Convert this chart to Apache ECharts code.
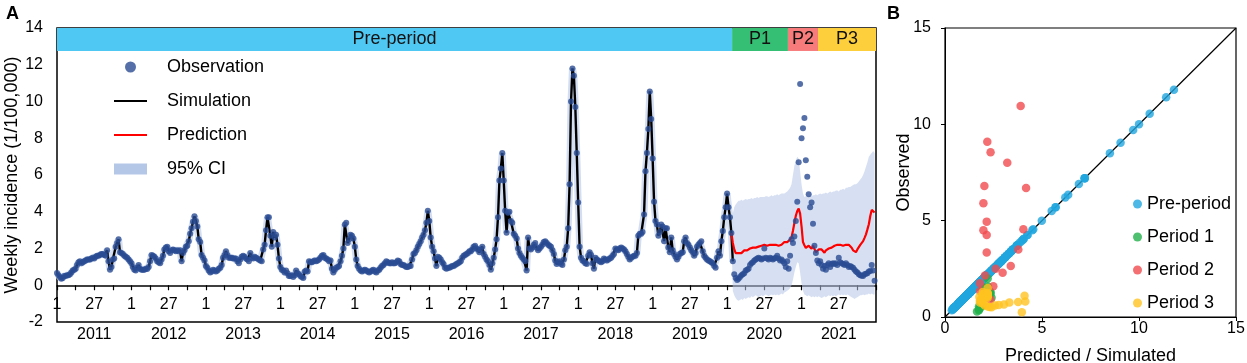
<!DOCTYPE html>
<html>
<head>
<meta charset="utf-8">
<title>Weekly incidence</title>
<script src="https://cdn.jsdelivr.net/npm/echarts@6/dist/echarts.min.js"></script>
<style>
  html, body { margin: 0; padding: 0; background: #fff; }
  #chart { width: 1247px; height: 363px; }
</style>
</head>
<body>
<div id="chart"></div>
<script>
// weekly observed incidence (1/100,000), 52 weeks per year
const obs2011 = [0.67,0.55,0.45,0.35,0.4,0.5,0.5,0.55,0.55,0.6, 0.7,0.8,0.85,0.9,1.1,1.25,1.3,1.2,1.25,1.3, 1.35,1.4,1.4,1.4,1.45,1.5,1.45,1.55,1.6,1.6, 1.65,1.7,1.7,1.65,1.6,1.9,1.3,0.85,1.0,1.4, 1.45,2.1,2.3,2.5,1.8,1.75,1.7,1.6,1.55,1.5, 1.4,1.3];
const obs2012 = [1.2,1.0,0.85,0.8,0.95,1.1,0.9,0.85,0.85,0.85, 0.9,0.88,1.0,1.3,1.65,1.6,1.55,1.45,1.3,1.25, 1.2,1.4,1.6,1.95,2.05,2.1,1.85,1.75,1.9,1.95, 1.9,1.85,1.9,1.85,1.9,1.3,1.75,1.9,2.1,2.15, 2.4,2.8,3.1,3.45,3.75,3.5,3.2,2.5,2.35,1.65, 1.5,1.35];
const obs2013 = [1.05,0.95,0.8,0.7,0.75,0.85,0.8,0.75,0.8,0.9, 0.95,1.1,1.5,1.65,1.85,1.65,1.5,1.5,1.5,1.45, 1.45,1.45,1.3,1.2,1.4,1.55,1.6,1.55,1.45,1.4, 1.3,1.75,1.5,1.45,1.55,1.5,1.45,1.4,1.35,1.3, 1.95,2.2,3.0,3.7,3.7,2.7,2.1,2.9,2.6,2.75, 2.2,1.45];
const obs2014 = [1.0,0.85,0.8,0.7,0.8,0.65,0.5,0.5,0.55,0.45, 0.55,0.8,0.65,0.6,0.5,0.45,0.4,0.75,0.8,0.75, 1.3,1.25,1.25,1.3,1.35,1.3,1.35,1.4,1.5,1.6, 1.65,1.5,1.45,1.4,1.3,1.35,0.9,0.7,0.85,0.95, 1.0,1.05,1.3,1.6,2.0,3.3,3.4,2.3,2.5,2.75, 2.7,2.55];
const obs2015 = [2.1,1.4,1.05,0.9,0.8,0.75,0.8,0.85,0.8,0.75, 0.7,0.75,0.8,0.85,0.75,0.7,0.8,0.85,0.95,1.05, 1.1,1.2,1.3,1.25,1.2,1.2,1.25,1.2,1.2,1.25, 1.35,1.3,1.15,1.1,1.1,1.05,1.0,1.0,1.05,1.05, 1.4,1.7,1.75,1.9,2.1,2.25,2.4,2.6,2.75,3.0, 3.4,4.05];
const obs2016 = [3.5,2.6,2.1,1.85,1.45,1.05,1.55,1.5,1.4,1.25, 1.15,0.95,0.9,0.95,0.95,1.0,1.05,1.05,1.1,1.15, 1.2,1.25,1.3,1.5,1.6,1.65,1.7,1.75,1.85,1.85, 1.95,2.1,2.15,2.0,1.95,1.8,1.95,2.1,1.7,1.55, 1.4,1.3,1.1,0.85,1.2,1.5,1.95,2.5,3.7,5.7, 6.35,7.2];
const obs2017 = [5.7,4.05,2.86,3.95,4.0,3.5,3.4,2.8,2.7,2.55, 2.0,1.75,1.6,1.5,1.4,1.3,0.8,2.6,2.0,1.95, 2.05,2.2,2.3,2.05,1.9,2.0,2.1,2.2,2.35,2.4, 2.3,2.2,2.15,2.1,1.9,1.7,1.35,1.15,1.25,1.3, 1.15,1.1,1.4,1.9,2.1,3.1,5.5,10.0,11.8,11.4, 9.7,7.2];
const obs2018 = [4.5,2.1,1.5,1.35,1.3,1.2,1.15,1.6,1.8,1.65, 1.2,0.9,1.5,1.4,1.35,1.3,1.25,1.3,1.45,1.4, 1.35,1.4,1.45,1.5,1.6,1.7,2.0,1.95,1.9,2.0, 2.05,2.0,1.95,1.85,1.7,1.55,1.4,1.5,1.55,1.6, 1.6,1.75,2.7,2.8,2.8,2.9,3.85,6.2,7.2,8.5, 10.55,9.05];
const obs2019 = [6.9,4.55,3.5,3.3,2.7,2.9,3.3,3.2,2.4,3.1, 3.1,2.05,1.8,2.6,1.9,1.7,1.55,1.4,1.55,1.7, 1.75,1.8,2.4,2.6,2.3,2.2,2.05,1.9,1.8,1.6, 1.75,2.1,2.2,2.3,2.4,1.85,1.6,1.5,1.4,1.35, 1.3,1.25,1.2,1.05,0.95,1.5,1.85,1.6,2.4,2.95, 3.7,4.25];
const obs2020 = [4.99,4.25,3.7,2.85,1.3,0.6,0.4,0.28,0.35,0.45, 0.55,0.6,0.65,0.8,0.85,0.9,1.1,1.2,1.25,1.35, 1.4,1.45,1.5,1.45,1.4,1.45,2.0,1.5,1.45,1.4, 1.5,1.45,1.4,1.45,1.5,1.6,1.45,1.35,1.4,1.3, 1.2,1.0,1.3,0.9,1.6,2.5,2.3,2.65,3.5,4.55, 6.7,10.95];
const obs2021 = [8.0,8.55,9.1,6.8,5.9,4.95,4.25,4.5,3.35,2.15, 1.75,1.35,1.2,1.3,1.1,0.9,1.05,0.85,1.1,1.2, 1.0,1.15,1.2,1.15,1.2,1.1,1.5,1.25,1.2,1.15, 1.1,1.2,1.1,1.0,1.05,1.0,0.95,0.85,0.75,0.7, 0.6,0.55,0.52,0.5,0.6,0.62,0.65,0.75,0.78,1.1, 0.8,0.25];

const years = ['2011', '2012', '2013', '2014', '2015', '2016', '2017', '2018', '2019', '2020', '2021'];

// periods, by first week index (week 0 = 2011 week 1)
const periodNames = ['Pre-period', 'P1', 'P2', 'P3'];
const periodStart = [0, 472, 511, 532];
const scatterNames = ['Pre-period', 'Period 1', 'Period 2', 'Period 3'];

// simulation follows the observations up to the end of the pre-period
const simulatedEnd = 472;

// prediction and its 95% CI, from week index 471 to 571
const predStart = 471;
const predicted = [2.85,2.3,1.95,1.75,1.65,1.75,1.8,1.75,1.85,1.9, 1.85,1.9,1.95,2.0,1.95,2.05,2.0,2.05,2.05,2.1, 2.1,2.15,2.1,2.2,2.15,2.15,2.2,2.2,2.2,2.2, 2.15,2.2,2.2,2.15,2.15,2.2,2.3,2.35,2.4,2.35,
  2.35,2.49,2.61,2.97,3.39,3.78,4.04,4.18,3.9,3.21, 2.35,2.18,2.03,1.98,2.15,2.15,1.98,2.15,2.06,1.8, 1.8,
  1.95,1.95,1.95,1.86,1.77,1.9,1.95,2.0,2.0,2.05, 2.1,2.15,2.15,2.2,2.2,2.2,2.2,2.15,2.2,2.2, 2.2,2.2,2.15,2.04,1.9,1.8,1.8,1.95,2.05,2.2, 2.3,2.4,2.58,2.77,3.04,3.32,3.77,4.1,4.14,3.96];
const ciLower = [2.85,
  -0.3,-0.55,-0.7,-0.8,-0.85,-0.8,-0.75,-0.8,-0.7,-0.75, -0.7,-0.65,-0.7,-0.6,-0.65,-0.6,-0.55,-0.6,-0.65,-0.6,
  -0.55,-0.6,-0.55,-0.5,-0.55,-0.6,-0.55,-0.5,-0.55,-0.5, -0.55,-0.5,-0.55,-0.5,-0.45,-0.5,-0.4,-0.35,-0.3,-0.25,
  -0.15,0.0,0.3,0.7,1.0,1.25,1.2,0.7,0.1,-0.3, -0.5,-0.55,-0.6,-0.55,-0.6,-0.65,-0.6,-0.65,-0.6,-0.65,
  -0.6,-0.65,-0.7,-0.65,-0.6,-0.65,-0.6,-0.55,-0.6,-0.55, -0.6,-0.55,-0.6,-0.55,-0.5,-0.55,-0.5,-0.55,-0.5,-0.55,
  -0.5,-0.55,-0.6,-0.65,-0.7,-0.75,-0.7,-0.65,-0.6,-0.55, -0.55,-0.5,-0.55,-0.5,-0.5,-0.45,-0.5,-0.45,-0.5,-0.5];
const ciUpper = [2.85,
  3.9,4.25,4.4,4.5,4.6,4.6,4.65,4.6,4.65,4.7, 4.65,4.7,4.7,4.75,4.7,4.75,4.75,4.8,4.75,4.8,
  4.8,4.8,4.8,4.85,4.85,4.8,4.85,4.9,4.85,4.9, 4.9,4.95,4.9,4.95,5.0,5.0,5.0,5.05,5.1,5.2,
  5.3,5.5,6.0,6.5,6.8,7.0,6.9,6.2,5.5,5.0, 4.8,4.85,4.8,4.85,4.9,4.85,4.9,4.9,4.95,4.9,
  4.95,5.0,4.95,5.0,5.0,5.05,5.0,5.05,5.1,5.05, 5.1,5.1,5.15,5.15,5.1,5.2,5.2,5.25,5.2,5.3,
  5.3,5.35,5.35,5.4,5.45,5.5,5.5,5.55,5.65,5.75, 5.85,6.0,6.2,6.45,6.7,7.0,7.1,7.2,7.3,7.2];

const periodColors = ['#4FC9F3', '#35BF74', '#F77B7B', '#FDCF3D'];
const scatterColors = ['#20A6DE', '#22B04B', '#F04B4F', '#FFC320'];
const identity = [0, 15];

const observed = [].concat(obs2011, obs2012, obs2013, obs2014, obs2015, obs2016,
  obs2017, obs2018, obs2019, obs2020, obs2021);
const nWeeks = observed.length;

const obsPoints = observed.map((v, i) => [i, v]);
const simPoints = observed.slice(0, simulatedEnd + 1).map((v, i) => [i, v]);
const predPoints = predicted.map((v, k) => [predStart + k, v]);
const ciRows = ciUpper.map((v, k) => [predStart + k, ciLower[k], v]);

// observed against simulated / predicted, grouped by period
const groups = periodStart.map(() => []);
observed.forEach((v, i) => {
    let p = 0;
    for (let k = 1; k < periodStart.length; k++) {
        if (i >= periodStart[k]) p = k;
    }
    const x = p === 0 ? v : predicted[i - predStart];
    groups[p].push([x, v]);
});

const bands = periodNames.map((name, k) => {
    const from = k === 0 ? 0 : periodStart[k] - 0.5;
    const to = k + 1 < periodStart.length ? periodStart[k + 1] - 0.5 : nWeeks;
    return [
        { name: name, xAxis: from, yAxis: 12.75, itemStyle: { color: periodColors[k] } },
        { xAxis: to, yAxis: 14 }
    ];
});

// CI drawn as one polygon: upper edge forward, lower edge back
function renderBand(params, api) {
    if (params.dataIndex !== 0) return null;
    const upper = ciRows.map(r => api.coord([r[0], r[2]]));
    const lower = ciRows.map(r => api.coord([r[0], r[1]])).reverse();
    return {
        type: 'polygon',
        shape: { points: upper.concat(lower) },
        style: { fill: '#B4C7E7', opacity: 0.55 }
    };
}

const font = 'Liberation Sans, Arial, sans-serif';
const chart = echarts.init(document.getElementById('chart'));

const option = {
    animation: false,
    textStyle: { fontFamily: font },
    title: [
        { text: 'A', left: 1, top: 0, textStyle: { fontSize: 18, fontWeight: 'bold', color: '#000', fontFamily: font } },
        { text: 'B', left: 882, top: 0, textStyle: { fontSize: 18, fontWeight: 'bold', color: '#000', fontFamily: font } }
    ],
    legend: [
        {
            orient: 'vertical', left: 109, top: 53,
            itemWidth: 33, itemHeight: 11, itemGap: 16,
            textStyle: { fontSize: 18, color: '#000', padding: [0, 0, 0, 15] },
            data: [
                { name: 'Observation', icon: 'circle', itemStyle: { color: '#2B4C94' } },
                { name: 'Simulation', icon: 'path://M0,0H33V2H0Z', itemStyle: { color: '#000' } },
                { name: 'Prediction', icon: 'path://M0,0H33V2H0Z', itemStyle: { color: '#FF0000' } },
                { name: '95% CI', icon: 'rect', itemStyle: { color: '#B4C7E7', opacity: 1 } }
            ]
        },
        {
            orient: 'vertical', left: 1128, top: 190,
            itemWidth: 9, itemHeight: 9, itemGap: 15,
            textStyle: { fontSize: 18, color: '#000' },
            data: scatterNames.map(n => ({ name: n, icon: 'circle' }))
        }
    ],
    grid: [
        { left: 57, top: 28, width: 819, height: 294, show: true, borderColor: '#000', borderWidth: 1.5, outerBoundsMode: 'none' },
        { left: 945, top: 28, width: 291, height: 289, show: true, borderColor: '#000', borderWidth: 1.2, outerBoundsMode: 'none' },
        // same width as grid 0, bottom edge on its zero line: carries the week ticks
        { left: 57, top: 28, width: 819, height: 257.25, outerBoundsMode: 'none' }
    ],
    xAxis: [
        { type: 'value', gridIndex: 0, min: 0, max: nWeeks, show: false },
        {
            type: 'category', gridIndex: 0, data: years, position: 'bottom',
            boundaryGap: true,
            axisLine: { show: false, onZero: false },
            axisTick: { show: false },
            axisLabel: { fontSize: 16, color: '#000', margin: 5, interval: 0 }
        },
        {
            type: 'value', gridIndex: 1, min: 0, max: 15, interval: 5,
            axisLine: { lineStyle: { color: '#000' } },
            axisTick: { show: true, length: 4, lineStyle: { color: '#000' } },
            splitLine: { show: false },
            axisLabel: { fontSize: 16, color: '#000', margin: 4 },
            name: 'Predicted / Simulated', nameLocation: 'middle', nameGap: 30,
            nameMoveOverlap: false,
            nameTextStyle: { fontSize: 18, color: '#000' }
        },
        {
            type: 'value', gridIndex: 2, min: 0, max: nWeeks, interval: 13,
            axisLine: { onZero: false, lineStyle: { color: '#000', width: 1.5 } },
            axisTick: { show: true, length: 5, lineStyle: { color: '#000', width: 1.2 } },
            splitLine: { show: false },
            axisLabel: {
                fontSize: 16, color: '#000', margin: 11,
                formatter: v => (v % 52 === 0 && v < nWeeks) ? '1' : (v % 52 === 26 ? '27' : '')
            }
        }
    ],
    yAxis: [
        {
            type: 'value', gridIndex: 0, min: -2, max: 14, interval: 2,
            axisLine: { show: false },
            axisTick: { show: false },
            splitLine: { show: false },
            axisLabel: { fontSize: 16, color: '#000', margin: 14 },
            name: 'Weekly incidence (1/100,000)', nameLocation: 'middle', nameGap: 36,
            nameMoveOverlap: false,
            nameTextStyle: { fontSize: 18, color: '#000' }
        },
        {
            type: 'value', gridIndex: 1, min: 0, max: 15, interval: 5,
            axisLine: { lineStyle: { color: '#000' } },
            axisTick: { show: true, length: 4, lineStyle: { color: '#000' } },
            splitLine: { show: false },
            axisLabel: { fontSize: 16, color: '#000', margin: 14 },
            name: 'Observed', nameLocation: 'middle', nameGap: 32,
            nameMoveOverlap: false,
            nameTextStyle: { fontSize: 18, color: '#000' }
        },
        { type: 'value', gridIndex: 2, min: 0, max: 14, show: false }
    ],
    series: [
        {
            name: '95% CI', type: 'custom', xAxisIndex: 0, yAxisIndex: 0,
            data: ciRows, encode: { x: 0, y: [1, 2] },
            renderItem: renderBand, clip: true, silent: true, z: 1,
            itemStyle: { color: '#B4C7E7' }
        },
        {
            name: '95% CI', type: 'line', xAxisIndex: 0, yAxisIndex: 0,
            data: simPoints, symbol: 'none',
            itemStyle: { color: '#B4C7E7' },
            lineStyle: { color: '#D3DEF2', width: 7 }, silent: true, z: 1
        },
        {
            name: 'Simulation', type: 'line', xAxisIndex: 0, yAxisIndex: 0,
            data: simPoints, symbol: 'none',
            itemStyle: { color: '#000' },
            lineStyle: { color: '#000', width: 2.4 }, z: 2
        },
        {
            name: 'Prediction', type: 'line', xAxisIndex: 0, yAxisIndex: 0,
            data: predPoints, symbol: 'none',
            itemStyle: { color: '#FF0000' },
            lineStyle: { color: '#FF0000', width: 2.2 }, z: 2
        },
        {
            name: 'Observation', type: 'scatter', xAxisIndex: 0, yAxisIndex: 0,
            data: obsPoints, symbol: 'circle', symbolSize: 6,
            itemStyle: { color: '#2B4C94' }, z: 3,
            markArea: {
                silent: true,
                label: { show: true, position: 'inside', fontSize: 18, color: '#111', fontFamily: font },
                data: bands
            }
        },
        {
            name: 'identity', type: 'line', xAxisIndex: 2, yAxisIndex: 1,
            data: identity.map(v => [v, v]), symbol: 'none',
            lineStyle: { color: '#000', width: 1.2 }, silent: true, z: 1
        }
    ].concat(groups.map((pts, k) => ({
        name: scatterNames[k], type: 'scatter', xAxisIndex: 2, yAxisIndex: 1,
        data: pts, symbol: 'circle', symbolSize: 8.5,
        itemStyle: { color: scatterColors[k] }, z: 2 + k
    })))
};

chart.setOption(option);
</script>
</body>
</html>
